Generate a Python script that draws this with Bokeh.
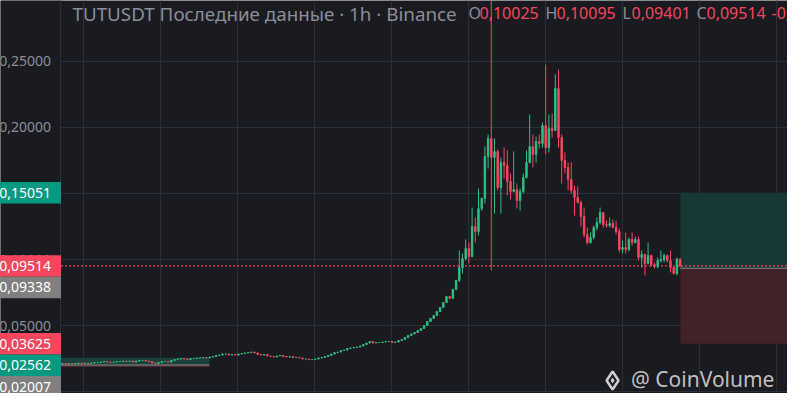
from bokeh.core.properties import value
from bokeh.embed import file_html
from bokeh.models import (BoxAnnotation, ColumnDataSource, CustomJSTickFormatter, FixedTicker, Grid,
                          LinearAxis, Range1d)
from bokeh.plotting import figure
from bokeh.resources import INLINE

BG = "#1a1b20"
GRID = "#2c2f38"
UP = "#2ebd85"
DOWN = "#f6465d"
TEAL = "#089981"
GREY = "#808080"
TEXT = "#8b8e97"
FONT = "Noto Sans"

# hourly candles (close of each bar, open = previous close)
first_open = 0.0208
early_close = [
    0.0212, 0.0208, 0.0212, 0.0208, 0.0212, 0.0216, 0.0212, 0.0216, 0.0212, 0.0216,
    0.0220, 0.0220, 0.0223, 0.0227, 0.0223, 0.0220, 0.0223, 0.0227, 0.0227, 0.0231,
    0.0227, 0.0231, 0.0223, 0.0231, 0.0235, 0.0235, 0.0231, 0.0227, 0.0216, 0.0212,
    0.0220, 0.0227, 0.0227, 0.0223, 0.0235, 0.0242, 0.0246, 0.0250, 0.0246, 0.0242,
    0.0250, 0.0250, 0.0254, 0.0254, 0.0258, 0.0254, 0.0261, 0.0265, 0.0273, 0.0276,
    0.0284, 0.0284, 0.0276, 0.0280, 0.0276, 0.0284, 0.0288, 0.0292, 0.0295, 0.0299,
    0.0292, 0.0280, 0.0276, 0.0280, 0.0269, 0.0265, 0.0261, 0.0269, 0.0273, 0.0265,
    0.0261, 0.0265, 0.0258, 0.0258, 0.0254, 0.0246, 0.0246, 0.0242, 0.0242, 0.0246,
    0.0254, 0.0258, 0.0265, 0.0273, 0.0284, 0.0295, 0.0299, 0.0311, 0.0314, 0.0326,
    0.0330, 0.0333, 0.0337, 0.0345, 0.0356, 0.0367, 0.0379, 0.0367, 0.0371, 0.0371,
    0.0375, 0.0379, 0.0379, 0.0371, 0.0375, 0.0386, 0.0394, 0.0409, 0.0424, 0.0436,
    0.0447, 0.0462, 0.0477, 0.0500, 0.0530, 0.0553, 0.0576, 0.0606, 0.0636, 0.0674,
    0.0720, 0.0705, 0.0773, 0.0841]
late_close = [
    0.0939, 0.1008, 0.1083, 0.1023, 0.1250, 0.1212, 0.1386, 0.1462, 0.1780, 0.1917,
    0.1773, 0.1818, 0.1545, 0.1735, 0.1712, 0.1591, 0.1515, 0.1530, 0.1447, 0.1515,
    0.1621, 0.1735, 0.1856, 0.1795, 0.1894, 0.1879, 0.2015, 0.1848, 0.1992, 0.1977,
    0.2295, 0.1924, 0.1750, 0.1697, 0.1606, 0.1523, 0.1470, 0.1432, 0.1326, 0.1189,
    0.1129, 0.1167, 0.1242, 0.1280, 0.1356, 0.1265, 0.1258, 0.1273, 0.1242, 0.1212,
    0.1076, 0.1091, 0.1076, 0.1152, 0.1129, 0.1152, 0.1015, 0.1038, 0.0970, 0.1030,
    0.0962, 0.0947, 0.0992, 0.1000, 0.1030, 0.0992, 0.0939, 0.0894, 0.10025, 0.09514]
late_high = [
    0.1068, 0.1045, 0.1152, 0.1129, 0.1394, 0.1318, 0.1538, 0.1470, 0.1856, 0.1947,
    0.3100, 0.1917, 0.1833, 0.1773, 0.1848, 0.1826, 0.1652, 0.1818, 0.1576, 0.1538,
    0.1652, 0.1826, 0.2098, 0.1947, 0.1932, 0.1947, 0.2038, 0.2477, 0.2098, 0.2106,
    0.2402, 0.2439, 0.1947, 0.1811, 0.1735, 0.1735, 0.1561, 0.1553, 0.1447, 0.1394,
    0.1242, 0.1205, 0.1258, 0.1318, 0.1394, 0.1356, 0.1295, 0.1318, 0.1303, 0.1295,
    0.1235, 0.1144, 0.1205, 0.1167, 0.1205, 0.1174, 0.1174, 0.1068, 0.1045, 0.1129,
    0.1038, 0.0977, 0.1015, 0.1068, 0.1045, 0.1038, 0.1068, 0.0947, 0.1015, 0.10095]
late_low = [
    0.0830, 0.0894, 0.0992, 0.0970, 0.1015, 0.1129, 0.1182, 0.1371, 0.1424, 0.1689,
    0.0917, 0.1348, 0.1523, 0.1348, 0.1614, 0.1485, 0.1455, 0.1508, 0.1386, 0.1371,
    0.1500, 0.1614, 0.1727, 0.1697, 0.1735, 0.1841, 0.1848, 0.1795, 0.1811, 0.1924,
    0.1977, 0.1848, 0.1576, 0.1652, 0.1523, 0.1500, 0.1333, 0.1424, 0.1250, 0.1167,
    0.1114, 0.1121, 0.1152, 0.1220, 0.1265, 0.1242, 0.1242, 0.1242, 0.1242, 0.1189,
    0.1053, 0.1045, 0.1045, 0.1061, 0.1106, 0.1121, 0.0992, 0.0939, 0.0879, 0.0962,
    0.0947, 0.0932, 0.0932, 0.0977, 0.0977, 0.0977, 0.0902, 0.0886, 0.0879, 0.09401]

price_ticks = [0.0, 0.05, 0.10, 0.15, 0.20, 0.25]
time_ticks = [6.6, 30.6, 54.7, 78.8, 102.8, 126.9, 150.9, 175.0, 199.1, 223.1]

# long position tools (target / entry / stop) drawn on the chart
pos_start = [-0.47, 193.1]
pos_end = [45.9, 240.0]
pos_target = [0.02562, 0.15051]
pos_entry = [0.02007, 0.09338]
pos_stop = [0.01862, 0.03625]

last_price = 0.09514
header_text = ["TUTUSDT Последние данные · 1h · Binance",
               "O", "0,10025", "H", "0,10095", "L", "0,09401", "C", "0,09514", "-0,00511 (-5,10%)"]
header_color = [TEXT, TEXT, DOWN, TEXT, DOWN, TEXT, DOWN, TEXT, DOWN, DOWN]
header_px = [11.5, 407.5, 418.5, 484.5, 495.5, 561.5, 570.5, 635.5, 645.5, 710.5]
header_size = ["18.8px"] + ["16px"] * 9

scale_text = ["0,15051", "0,09514", "0,09338", "0,03625", "0,02562", "0,02007", "0,01862"]
scale_price = [0.15051, 0.09514, 0.09338, 0.03625, 0.02562, 0.02007, 0.01862]
scale_color = [TEAL, DOWN, GREY, DOWN, TEAL, GREY, DOWN]

# ---- candles
closes = early_close + late_close
opens = [first_open] + closes[:-1]
n_early = len(early_close)
highs = [max(o, c) for o, c in zip(opens[:n_early], closes[:n_early])] + late_high
lows = [min(o, c) for o, c in zip(opens[:n_early], closes[:n_early])] + late_low
highs = [max(h, o, c) for h, o, c in zip(highs, opens, closes)]
lows = [min(lo, o, c) for lo, o, c in zip(lows, opens, closes)]
colors = [UP if c >= o else DOWN for o, c in zip(opens, closes)]
source = ColumnDataSource(data=dict(
    x=list(range(len(closes))), open=opens, close=closes, high=highs, low=lows,
    top=[max(o, c) for o, c in zip(opens, closes)],
    bottom=[min(o, c) for o, c in zip(opens, closes)], color=colors))

axis_x = -0.47
px_price = 1.0 / 1320  # one screen pixel in price units
y_top = 0.296212

p = figure(width=787, height=393, output_backend="svg", toolbar_location=None,
           x_range=Range1d(-19.375, 226.5625), y_range=Range1d(-0.001515, y_top),
           x_axis_location=None, y_axis_location=None,
           min_border_left=0, min_border_right=0, min_border_top=0, min_border_bottom=0,
           background_fill_color=BG, border_fill_color=BG, outline_line_color=None)
p.grid.visible = False
p.add_layout(Grid(dimension=0, ticker=FixedTicker(ticks=time_ticks), grid_line_color=GRID))
p.add_layout(Grid(dimension=1, ticker=FixedTicker(ticks=price_ticks), grid_line_color=GRID))

# price scale panel on the left
p.add_layout(BoxAnnotation(right=axis_x, fill_color=BG, fill_alpha=1.0, line_alpha=0, level="glyph"))
yaxis = LinearAxis(fixed_location=axis_x, ticker=FixedTicker(ticks=price_ticks),
                   formatter=CustomJSTickFormatter(code="return tick.toFixed(5).replace('.', ',')"))
yaxis.axis_line_color = GRID
yaxis.major_tick_line_color = None
yaxis.minor_tick_line_color = None
yaxis.major_tick_out = 0
yaxis.major_label_standoff = 10
yaxis.major_label_text_color = TEXT
yaxis.major_label_text_font = FONT
yaxis.major_label_text_font_size = "14px"
p.add_layout(yaxis, "left")

# position boxes
p.quad(left=pos_start, right=pos_end, top=pos_target, bottom=pos_entry,
       fill_color=["#1c403c", "#183836"], line_color=None)
p.quad(left=pos_start, right=pos_end, top=pos_entry, bottom=pos_stop,
       fill_color=["#4a2a30", "#422229"], line_color=None)
p.segment(x0=pos_start, x1=pos_end, y0=pos_entry, y1=pos_entry, line_color="#8c8c8c", line_width=1)

# last price line
p.segment(x0=[axis_x], x1=[240], y0=[last_price], y1=[last_price],
          line_color=DOWN, line_width=1.2, line_dash="2 2")

p.segment(x0="x", x1="x", y0="low", y1="high", line_color="color", line_width=1, source=source)
p.vbar(x="x", width=0.45, top="top", bottom="bottom", fill_color="color", line_color="color",
       line_width=1, source=source)

# watermark
p.scatter(x=[171.9], y=[0.0083], marker="diamond", size=18, fill_color=None,
          line_color="#cfcfcf", line_width=2.5)
p.scatter(x=[171.9], y=[0.0083], marker="diamond", size=6, fill_color="#cfcfcf", line_color=None)
p.text(x=[axis_x], y=[y_top], text=["@ CoinVolume"], x_offset=[570], y_offset=[378],
       text_color="#d6d6d6", text_alpha=0.9, text_font=value(FONT), text_font_size="21px",
       text_baseline="middle")

# legend line at the top
p.text(x=[axis_x] * len(header_text), y=[y_top] * len(header_text), text=header_text,
       x_offset=header_px, y_offset=[13.5] + [12.5] * 9, text_color=header_color,
       text_font=value(FONT), text_font_size=header_size, text_baseline="middle")

# coloured price tags on the scale, pushed down where they would overlap
tag_h = 21.5 * px_price
shown = []
for pr in scale_price:
    shown.append(pr if not shown else min(pr, shown[-1] - tag_h))
p.quad(left=[-30] * len(shown), right=[axis_x] * len(shown),
       top=[s + tag_h / 2 for s in shown], bottom=[s - tag_h / 2 for s in shown],
       fill_color=scale_color, line_color=None, level="annotation")
p.text(x=[axis_x] * len(shown), y=shown, text=scale_text, x_offset=-10, text_color="white",
       text_font=value(FONT), text_font_size="14px", text_align="right", text_baseline="middle",
       level="annotation")

open("out.html", "w").write(file_html(p, INLINE))
